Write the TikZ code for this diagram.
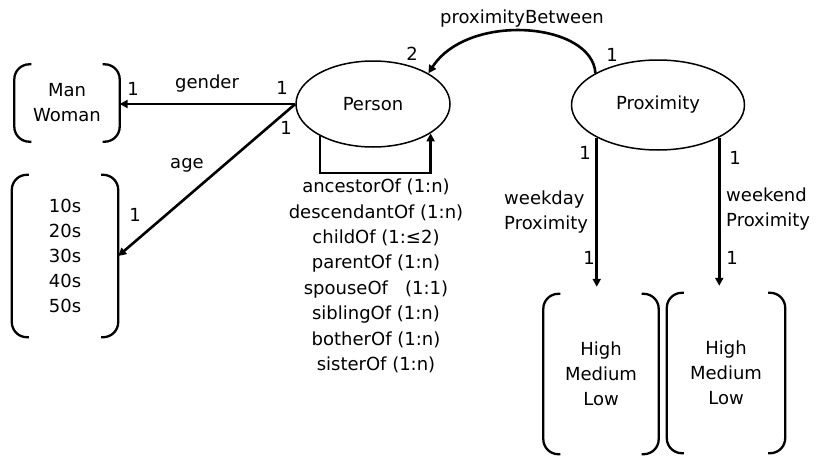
\documentclass[tikz,border=0pt]{standalone}
\usepackage{fontspec}
\setmainfont{DejaVu Sans}
\usepackage{tikz}
\usetikzlibrary{shapes.geometric,arrows.meta,positioning,calc}

% round brackets on both sides of a value node
\newcommand{\bracketbox}[1]{%
  \draw[brk] ([xshift=17pt]#1.north west) -- (#1.north west) -- (#1.south west) -- ([xshift=17pt]#1.south west);
  \draw[brk] ([xshift=-17pt]#1.north east) -- (#1.north east) -- (#1.south east) -- ([xshift=-17pt]#1.south east);}

\begin{document}
\begin{tikzpicture}[x=1pt,y=-1pt,
  cls/.style={ellipse,draw,line width=1.5pt,fill=white,inner sep=0pt,
    font=\fontsize{18}{22}\selectfont},
  vals/.style={rectangle,align=center,inner sep=0pt,
    font=\fontsize{18}{25}\selectfont},
  brk/.style={line width=2.3pt,rounded corners=15pt},
  rel/.style={-{Triangle[length=8pt,width=8pt]},line width=2.6pt},
  card/.style={font=\fontsize{18}{25}\selectfont,inner sep=1pt},
]
  \useasboundingbox (0,0) rectangle (816,455);

  % classes
  \node[cls,minimum width=154pt,minimum height=86pt] (person) at (373,104) {Person};
  \node[cls,minimum width=173pt,minimum height=90pt] (prox) at (658,105) {Proximity};

  % value sets
  \node[vals,minimum width=105pt,minimum height=77pt] (gendervals) at (67,103) {Man\\Woman};
  \node[vals,minimum width=106pt,minimum height=162pt] (agevals) at (65,256) {10s\\20s\\30s\\40s\\50s};
  \node[vals,minimum width=115pt,minimum height=160pt] (wdvals) at (601,374) {High\\Medium\\Low};
  \node[vals,minimum width=118pt,minimum height=160pt] (wevals) at (726,373) {High\\Medium\\Low};
  \bracketbox{gendervals}
  \bracketbox{agevals}
  \bracketbox{wdvals}
  \bracketbox{wevals}

  % kinship relations of Person
  \node[vals,font=\fontsize{18}{25.4}\selectfont] (kin) at (376,276) {ancestorOf (1:n)\\descendantOf (1:n)\\childOf (1:≤2)\\parentOf (1:n)\\spouseOf~~~(1:1)\\siblingOf (1:n)\\botherOf (1:n)\\sisterOf (1:n)};

  % relations
  \draw[rel] (person.west) -- (person.west -| gendervals.east);
  \draw[rel] (person.west) -- (agevals.east);
  \draw[rel] (person.211) -- ++(0,37) -| (person.333);
  \draw[rel] (prox.153) .. controls (592,22) and (468,12) .. (person.29);
  \draw[rel] (prox.208) -- ([yshift=7pt]prox.208 |- wdvals.north);
  \draw[rel] (prox.332) -- ([yshift=7pt]prox.332 |- wevals.north);

  % labels and cardinalities
  \node[card] (genderlbl) at (207,84) {gender};
  \node[card] (gender1) at (282,88) {1};
  \node[card] (gender2) at (133,89) {1};
  \node[card] (agelbl) at (187,165) {age};
  \node[card] (age1) at (286,128) {1};
  \node[card] (age2) at (135,215) {1};
  \node[card] (pblbl) at (522,19) {proximityBetween};
  \node[card] (pb2) at (412,54) {2};
  \node[card] (pb1) at (612,55) {1};
  \node[card] (wd1) at (585,153) {1};
  \node[card,align=left,anchor=west] (wdlbl) at (503,212) {weekday\\Proximity};
  \node[card] (wd2) at (589,258) {1};
  \node[card] (we1) at (735,158) {1};
  \node[card,align=left,anchor=west] (welbl) at (725,209) {weekend\\Proximity};
  \node[card] (we2) at (732,258) {1};
\end{tikzpicture}
\end{document}
